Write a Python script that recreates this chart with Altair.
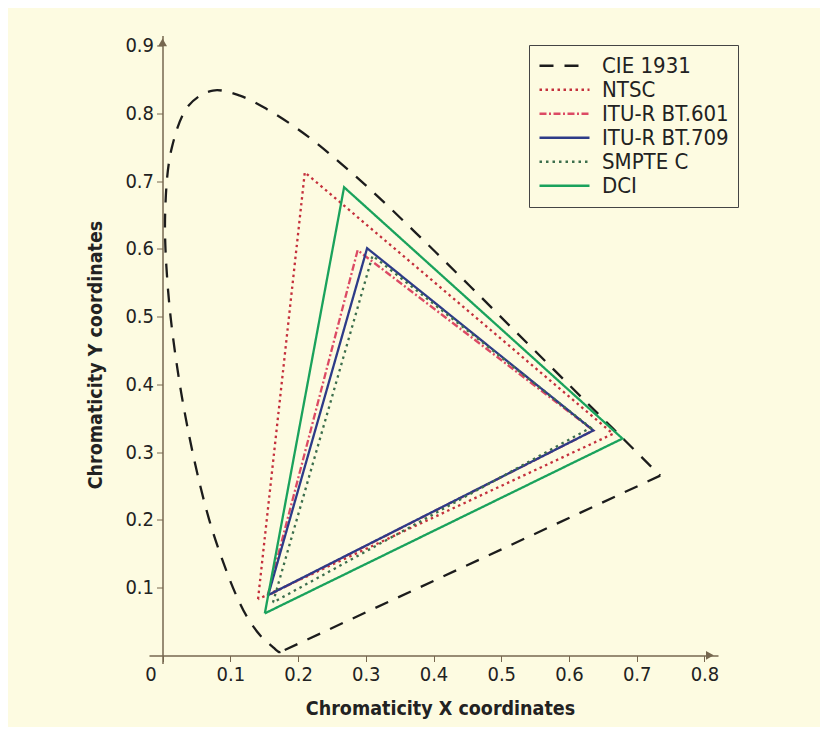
import altair as alt
import pandas as pd

# ---- data ----
series_names = ["CIE 1931", "NTSC", "ITU-R BT.601", "ITU-R BT.709", "SMPTE C", "DCI"]
series_colors = ["#1c1c1c", "#c4303c", "#dc4a64", "#2d3b88", "#3c6e4c", "#1aa25c"]
series_dash = [[14, 11], [2.5, 3.5], [7, 2.5, 2, 2.5], [1, 0], [2.5, 4], [1, 0]]

# spectral locus (curved part)
cie_x = [0.1741, 0.1733, 0.1726, 0.1714, 0.1689, 0.1644, 0.1566, 0.1440, 0.1241, 0.1096,
         0.0913, 0.0687, 0.0454, 0.0235, 0.0082, 0.0039, 0.0139, 0.0389, 0.0743, 0.1142,
         0.1547, 0.1929, 0.2296, 0.3016, 0.3731, 0.4441, 0.5125, 0.5752, 0.6270, 0.6658,
         0.6915, 0.7190, 0.7347]
cie_y = [0.0050, 0.0048, 0.0048, 0.0051, 0.0069, 0.0109, 0.0177, 0.0297, 0.0578, 0.0868,
         0.1327, 0.2007, 0.2950, 0.4127, 0.5384, 0.6548, 0.7502, 0.8120, 0.8338, 0.8262,
         0.8059, 0.7816, 0.7543, 0.6923, 0.6245, 0.5547, 0.4866, 0.4242, 0.3725, 0.3340,
         0.3083, 0.2809, 0.2653]
# line of purples (straight closing part)
purple_x = [0.7347, 0.1741]
purple_y = [0.2653, 0.0050]

ntsc_x = [0.141, 0.21, 0.665, 0.141]
ntsc_y = [0.083, 0.713, 0.327, 0.083]
bt601_x = [0.155, 0.288, 0.636, 0.155]
bt601_y = [0.088, 0.598, 0.332, 0.088]
bt709_x = [0.156, 0.302, 0.636, 0.156]
bt709_y = [0.089, 0.601, 0.332, 0.089]
smpte_x = [0.163, 0.31, 0.632, 0.163]
smpte_y = [0.078, 0.59, 0.336, 0.078]
dci_x = [0.151, 0.268, 0.679, 0.151]
dci_y = [0.062, 0.691, 0.32, 0.062]

x_ticks = [0, 0.1, 0.2, 0.3, 0.4, 0.5, 0.6, 0.7, 0.8]
y_ticks = [0.1, 0.2, 0.3, 0.4, 0.5, 0.6, 0.7, 0.8, 0.9]

arrow_x = [0.0, 0.808]
arrow_y = [0.905, 0.0]
arrow_shape = ["triangle-up", "triangle-right"]

# ---- tables ----
def table(names, xss, yss):
    rows = []
    for name, xs, ys in zip(names, xss, yss):
        for i, (a, b) in enumerate(zip(xs, ys)):
            rows.append({"series": name, "x": a, "y": b, "idx": i})
    return pd.DataFrame(rows)

curve_df = table(["CIE 1931"], [cie_x], [cie_y])
straight_df = table(series_names,
                    [purple_x, ntsc_x, bt601_x, bt709_x, smpte_x, dci_x],
                    [purple_y, ntsc_y, bt601_y, bt709_y, smpte_y, dci_y])
arrows = pd.DataFrame({"x": arrow_x, "y": arrow_y, "shape": arrow_shape})

BG = "#fdfbe1"
AXIS = "#76674f"
FONT = "Liberation Sans Narrow, DejaVu Sans Condensed, Roboto, sans-serif"

xscale = alt.Scale(domain=[-0.02, 0.82], nice=False, zero=False)
yscale = alt.Scale(domain=[-0.012, 0.915], nice=False, zero=False)

xaxis = alt.Axis(values=x_ticks, title="Chromaticity X coordinates", offset=-8,
                 grid=False, domainColor=AXIS, domainWidth=1.5, tickColor=AXIS,
                 tickSize=6, labelFont=FONT, labelFontSize=20, labelColor="#222",
                 labelFlush=False, labelOverlap=False, labelPadding=3,
                 labelExpr="datum.value == 0 ? '0' : format(datum.value, '.1f')",
                 labelOffset={"condition": {"test": "datum.value == 0", "value": -12}, "value": 0},
                 titleFont=FONT, titleFontSize=19.5, titleFontWeight="bold", titleColor="#222",
                 titlePadding=15, titleX=291)
yaxis = alt.Axis(values=y_ticks, title="Chromaticity Y coordinates", offset=-13.5,
                 grid=False, domainColor=AXIS, domainWidth=1.5, tickColor=AXIS,
                 tickSize=6, labelFont=FONT, labelFontSize=20, labelColor="#222",
                 labelFlush=False, labelOverlap=False, labelPadding=3, format=".1f",
                 titleFont=FONT, titleFontSize=19.5, titleFontWeight="bold", titleColor="#222",
                 titlePadding=19, titleY=319)

legend = alt.Legend(title=None, orient="none", legendX=380, legendY=9.5,
                    symbolType="stroke", symbolSize=2500,
                    symbolStrokeWidth=2.5, clipHeight=23.4,
                    labelFont=FONT, labelFontSize=22, labelColor="#222",
                    labelLimit=0, labelOffset=11,
                    strokeColor="#444", fillColor=BG, padding=9,
                    rowPadding=0)

enc = dict(
    x=alt.X("x:Q", scale=xscale, axis=xaxis),
    y=alt.Y("y:Q", scale=yscale, axis=yaxis),
    color=alt.Color("series:N", scale=alt.Scale(domain=series_names, range=series_colors),
                    legend=legend),
    strokeDash=alt.StrokeDash("series:N", scale=alt.Scale(domain=series_names, range=series_dash),
                              legend=legend),
    order="idx:Q",
)

curve = alt.Chart(curve_df).mark_line(strokeWidth=2.3, clip=False,
                                      interpolate="catmull-rom").encode(**enc)
straight = alt.Chart(straight_df).mark_line(strokeWidth=2.3, clip=False).encode(**enc)

arrow_marks = alt.Chart(arrows).mark_point(filled=True, size=80, color=AXIS, opacity=1).encode(
    x=alt.X("x:Q", scale=xscale),
    y=alt.Y("y:Q", scale=yscale),
    shape=alt.Shape("shape:N", scale=None),
)

chart = alt.layer(curve, straight, arrow_marks).properties(
    width=569, height=628,
    background=BG,
    padding={"left": 141, "top": 27.5, "right": 102, "bottom": 63.5},
    autosize=alt.AutoSizeParams(type="none"),
).configure_view(stroke=None)

chart.save("out.html", embed_options={"renderer": "svg", "actions": False})
